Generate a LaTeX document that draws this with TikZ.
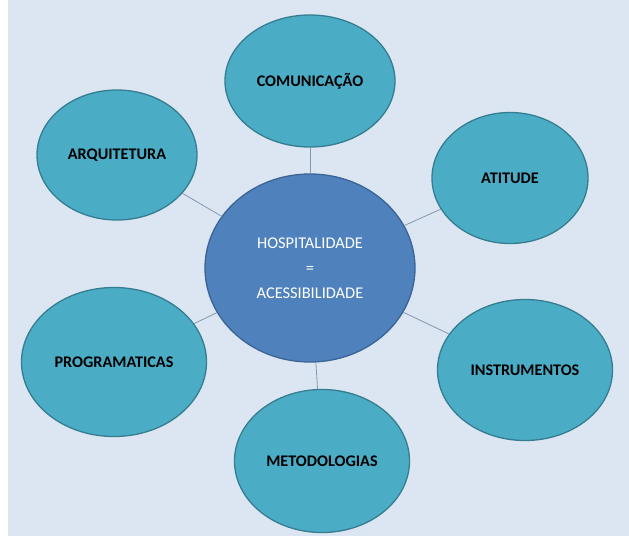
\documentclass[tikz,border=0pt]{standalone}
\usepackage{fontspec}
\setmainfont{Carlito}
\usetikzlibrary{shapes.geometric}

\definecolor{bgblue}{HTML}{DCE6F2}
\definecolor{hubfill}{HTML}{4F81BD}
\definecolor{hubline}{HTML}{3A6595}
\definecolor{satfill}{HTML}{4BACC6}
\definecolor{satline}{HTML}{357D91}
\definecolor{linkcol}{HTML}{8497B0}

\begin{document}
\begin{tikzpicture}[x=1pt,y=-1pt,
	hub/.style={ellipse,draw=hubline,fill=hubfill,line width=1.3pt,inner sep=0pt,
		text=white,align=center,font=\fontsize{16.4}{25}\selectfont},
	sat/.style={ellipse,draw=satline,fill=satfill,line width=1.3pt,inner sep=0pt,
		font=\fontsize{16.2}{18}\selectfont\bfseries},
	link/.style={draw=linkcol,line width=0.8pt}]
	\useasboundingbox (0,0) rectangle (629,536);
	\fill[bgblue] (8,0) rectangle (629,536);
	% satellites round the hub
	\node[sat,minimum width=170,minimum height=132] (com)  at (310,81)  {COMUNICAÇÃO};
	\node[sat,minimum width=160,minimum height=130] (arq)  at (117,155) {ARQUITETURA};
	\node[sat,minimum width=156,minimum height=131] (att)  at (510,178) {ATITUDE};
	\node[sat,minimum width=185,minimum height=149] (prog) at (114,362) {PROGRAMATICAS};
	\node[sat,minimum width=175,minimum height=141] (inst) at (525,370) {INSTRUMENTOS};
	\node[sat,minimum width=175,minimum height=143] (met)  at (322,461) {METODOLOGIAS};
	\node[hub,minimum width=210,minimum height=188] (hosp) at (310,268)
		{HOSPITALIDADE\\=\\ACESSIBILIDADE};
	\path[link]
	(hosp) edge (com)
	(hosp) edge (arq)
	(hosp) edge (att)
	(hosp) edge (prog)
	(hosp) edge (inst)
	(hosp) edge (met)
	;
\end{tikzpicture}
\end{document}
